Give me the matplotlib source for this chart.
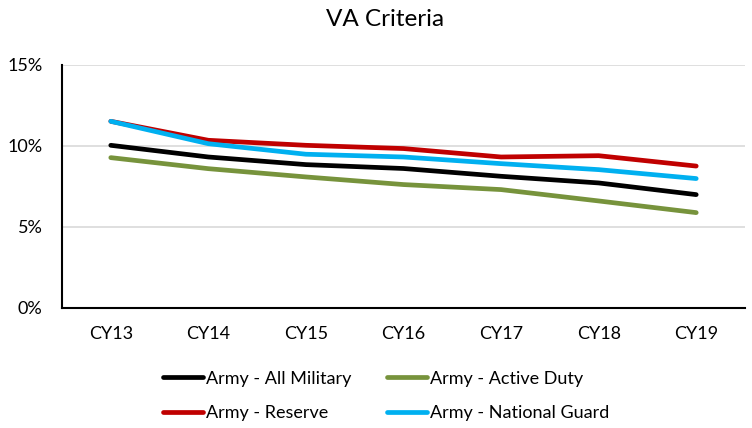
import matplotlib
matplotlib.use("Agg")
import matplotlib.pyplot as plt
from matplotlib.ticker import FuncFormatter

categories = ["CY13", "CY14", "CY15", "CY16", "CY17", "CY18", "CY19"]
all_military = [10.03, 9.31, 8.84, 8.60, 8.12, 7.71, 6.99]
active_duty = [9.27, 8.59, 8.08, 7.61, 7.30, 6.60, 5.88]
reserve = [11.51, 10.34, 10.03, 9.83, 9.31, 9.39, 8.75]
national_guard = [11.51, 10.13, 9.48, 9.31, 8.90, 8.53, 7.98]

plt.rcParams['font.family'] = ['Lato', 'DejaVu Sans']

fig = plt.figure(figsize=(7.52, 4.28), dpi=100)
ax = fig.add_axes([62/752, 1-308/428, (745-62)/752, (308-64.7)/428])

x = list(range(len(categories)))
lw = 3.4
l1, = ax.plot(x, all_military, color="#000000", lw=lw, solid_capstyle="round", label="Army - All Military", zorder=3)
l2, = ax.plot(x, active_duty, color="#77933C", lw=lw, solid_capstyle="round", label="Army - Active Duty", zorder=3)
l3, = ax.plot(x, reserve, color="#C00000", lw=lw, solid_capstyle="round", label="Army - Reserve", zorder=3)
l4, = ax.plot(x, national_guard, color="#00B0F0", lw=lw, solid_capstyle="round", label="Army - National Guard", zorder=4)

ax.set_xlim(-0.5, 6.5)
ax.set_ylim(0, 15)
ax.set_yticks([0, 5, 10, 15])
ax.yaxis.set_major_formatter(FuncFormatter(lambda v, p: f"{v:.0f}%"))
ax.set_xticks(x)
ax.set_xticklabels(categories)
ax.tick_params(axis="both", length=0, labelsize=13, colors="#000000")
ax.tick_params(axis="x", pad=13)
ax.tick_params(axis="y", pad=14)
ax.grid(axis="y", color="#d9d9d9", lw=1.2, zorder=0)
ax.set_axisbelow(True)
for s in ["top", "right"]:
    ax.spines[s].set_visible(False)
ax.spines["left"].set_color("#000000")
ax.spines["bottom"].set_color("#000000")
ax.spines["left"].set_linewidth(1.5)
ax.spines["bottom"].set_linewidth(1.5)

fig.text(385/752, 1-20/428, "VA Criteria", ha="center", va="center", fontsize=17.5)

fig.legend(handles=[l1, l3, l2, l4], ncol=2, loc="center",
           bbox_to_anchor=(386/752, 1-396/428), frameon=False,
           fontsize=13, handlelength=2.2, handletextpad=0.15,
           columnspacing=2.0, labelspacing=1.05)

fig.savefig("out.png", dpi=100)
